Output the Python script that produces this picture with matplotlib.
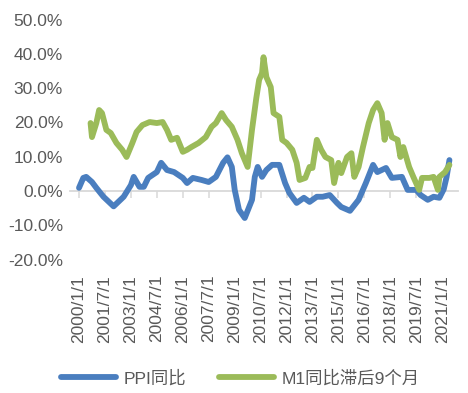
import matplotlib
matplotlib.use("Agg")
import matplotlib.pyplot as plt
import pandas as pd

# PPI yoy (%)
ppi_dates = [
    "2000-01", "2000-04", "2000-06", "2000-10", "2001-01", "2001-06", "2002-01",
    "2002-08", "2003-01", "2003-03", "2003-07", "2003-10", "2004-01", "2004-07",
    "2004-10", "2005-02", "2005-07", "2006-01", "2006-04", "2006-08", "2007-02",
    "2007-07", "2007-12", "2008-05", "2008-08", "2008-11", "2009-01", "2009-04",
    "2009-08", "2010-01", "2010-03", "2010-05", "2010-08", "2010-11", "2011-03",
    "2011-08", "2011-12", "2012-03", "2012-08", "2013-01", "2013-05", "2013-10",
    "2014-02", "2014-07", "2014-12", "2015-03", "2015-09", "2016-03", "2016-08",
    "2017-01", "2017-04", "2017-10", "2018-02", "2018-09", "2019-01", "2019-07",
    "2019-10", "2020-03", "2020-07", "2020-11", "2021-02", "2021-04", "2021-06",
]
ppi_vals = [
    0.9, 3.8, 4.1, 2.6, 0.9, -1.7, -4.5,
    -1.7, 1.7, 4.1, 1.2, 1.2, 3.8, 5.5,
    8.2, 6.1, 5.5, 3.8, 2.3, 3.8, 3.2,
    2.6, 4.1, 8.2, 9.8, 7.0, 0.3, -5.5,
    -7.9, -2.6, 4.1, 7.0, 4.1, 6.1, 7.6,
    7.6, 2.3, -0.6, -3.5, -2.0, -3.2, -1.7,
    -1.7, -1.2, -3.5, -4.7, -5.8, -2.6, 2.3,
    7.6, 5.5, 6.7, 3.8, 4.1, 0.3, 0.3,
    -1.2, -2.6, -1.7, -2.0, 0.5, 4.0, 9.0,
]

# M1 yoy lagged 9 months (%)
m1_dates = [
    "2000-09", "2000-10", "2001-01", "2001-03", "2001-05", "2001-08", "2001-11",
    "2002-03", "2002-07", "2002-10", "2003-02", "2003-05", "2003-09", "2004-02",
    "2004-07", "2004-11", "2005-02", "2005-05", "2005-09", "2006-01", "2006-04",
    "2006-07", "2006-12", "2007-05", "2007-09", "2007-12", "2008-04", "2008-07",
    "2008-11", "2009-03", "2009-06", "2009-10", "2010-01", "2010-04", "2010-06",
    "2010-08", "2010-09", "2010-11", "2011-02", "2011-04", "2011-08", "2011-10",
    "2012-01", "2012-05", "2012-08", "2012-10", "2013-02", "2013-05", "2013-07",
    "2013-10", "2014-01", "2014-04", "2014-08", "2014-10", "2015-01", "2015-03",
    "2015-07", "2015-10", "2015-12", "2016-03", "2016-06", "2016-10", "2017-01",
    "2017-04", "2017-07", "2017-09", "2017-11", "2018-02", "2018-06", "2018-08",
    "2018-10", "2019-02", "2019-05", "2019-09", "2019-11", "2020-04", "2020-07",
    "2020-10", "2020-11", "2021-03", "2021-06",
]
m1_vals = [
    19.8, 15.7, 19.8, 23.6, 22.7, 17.8, 16.9,
    14.0, 12.0, 9.9, 14.0, 17.2, 19.2, 20.1,
    19.8, 20.1, 17.8, 14.9, 15.5, 11.4, 12.0,
    12.8, 14.0, 15.7, 18.7, 19.8, 22.7, 20.7,
    18.7, 14.9, 11.0, 7.0, 17.8, 27.0, 32.4,
    34.4, 39.0, 33.2, 30.3, 22.7, 21.6, 14.9,
    14.0, 12.0, 8.2, 3.2, 3.8, 7.0, 6.7,
    14.9, 12.0, 9.9, 9.0, 2.3, 8.2, 5.2,
    9.9, 11.0, 4.1, 7.0, 12.8, 19.8, 23.6,
    25.6, 22.7, 14.9, 19.8, 15.7, 14.9, 9.9,
    12.8, 7.0, 4.1, 0.3, 3.8, 3.8, 4.1,
    0.3, 4.1, 5.5, 7.6,
]

tick_dates = pd.date_range("2000-01-01", periods=15, freq="18MS")
tick_labels = [f"{d.year}/{d.month}/{d.day}" for d in tick_dates]
y_ticks = [-20, -10, 0, 10, 20, 30, 40, 50]

plt.rcParams["font.family"] = ["Liberation Sans", "Noto Sans CJK SC"]
grey = "#595959"
blue = "#4A7EBF"
green = "#9BBB59"

fig = plt.figure(figsize=(4.68, 3.93), dpi=100)
ax = fig.add_axes([70 / 468, 1 - 259.5 / 393, 388 / 468, 240 / 393])

ppi_x = pd.to_datetime(ppi_dates)
m1_x = pd.to_datetime(m1_dates)
l1, = ax.plot(ppi_x, ppi_vals, color=blue, lw=4.2, zorder=3,
              solid_joinstyle="round", solid_capstyle="round", label="PPI同比")
l2, = ax.plot(m1_x, m1_vals, color=green, lw=4.2, zorder=4,
              solid_joinstyle="round", solid_capstyle="round", label="M1同比滞后9个月")

start = pd.Timestamp("2000-01-01")
ax.set_xlim(start - pd.Timedelta(days=190), start + pd.Timedelta(days=8003))
ax.set_ylim(-20, 50)

for s in ["top", "right", "left"]:
    ax.spines[s].set_visible(False)
ax.spines["bottom"].set_position(("data", 0))
ax.spines["bottom"].set_color("#D9D9D9")
ax.spines["bottom"].set_linewidth(1.3)

ax.set_xticks(tick_dates)
ax.tick_params(axis="x", length=5, width=1.1, color="#D9D9D9", labelbottom=False)
ax.set_yticks(y_ticks)
ax.set_yticklabels([f"{v:.1f}%" for v in y_ticks])
ax.tick_params(axis="y", length=0, pad=5, labelsize=12.5, labelcolor=grey)

sec = ax.secondary_xaxis("bottom")
sec.set_xticks(tick_dates)
sec.set_xticklabels(tick_labels, rotation=90)
sec.spines["bottom"].set_visible(False)
sec.tick_params(length=0, pad=11, labelsize=12.5, labelcolor=grey)

fig.legend(handles=[l1, l2], loc="center", bbox_to_anchor=(240 / 468, 1 - 378 / 393),
           ncol=2, frameon=False, fontsize=12.5, labelcolor=grey,
           handlelength=3.2, handletextpad=0.4, columnspacing=1.9)

fig.savefig("out.png", dpi=100)
plt.close(fig)
